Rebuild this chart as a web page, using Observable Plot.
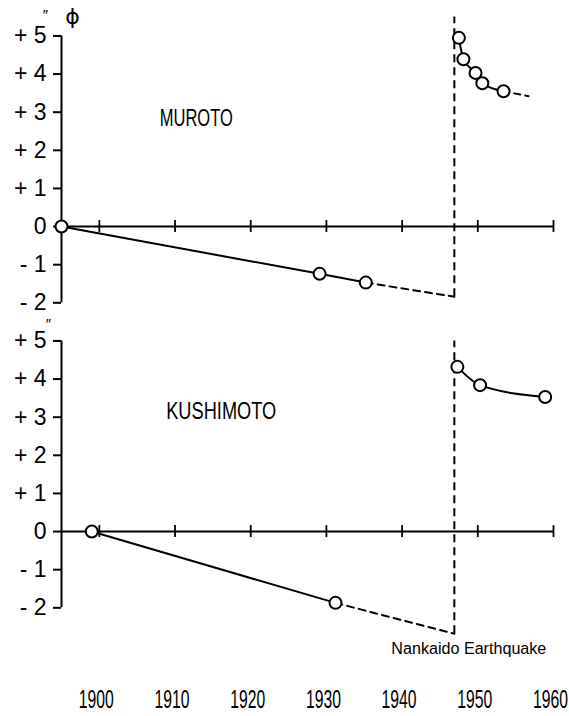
<!DOCTYPE html>
<html><head><meta charset="utf-8">
<script src="https://cdn.jsdelivr.net/npm/d3@7"></script>
<script src="https://cdn.jsdelivr.net/npm/@observablehq/plot@0.6"></script>
<style>body{margin:0;background:#fff;}</style>
</head><body><div id="chart"></div>
<script>
const stations = ["MUROTO", "KUSHIMOTO"];
const yearTicks = [1900, 1910, 1920, 1930, 1940, 1950, 1960];
const yearDomain = [1895, 1960];
const valueTicks = [-2, -1, 0, 1, 2, 3, 4, 5];
const valueTickLabels = ["- 2", "- 1", "0", "+ 1", "+ 2", "+ 3", "+ 4", "+ 5"];
const quakeYear = 1946.9;
const quakeLabel = "Nankaido Earthquake";

// Muroto
const murotoPreYears = [1895, 1929.1, 1935.2];
const murotoPreValues = [0, -1.24, -1.47];
const murotoQuakeDrop = -1.84;
const murotoQuakeTop = 5.5;
const murotoPostYears = [1947.5, 1948.1, 1949.7, 1950.6, 1953.4];
const murotoPostValues = [4.95, 4.39, 4.03, 3.76, 3.55];
const murotoTrendYear = 1956.7;
const murotoTrendValue = 3.42;

// Kushimoto
const kushimotoPreYears = [1899, 1931.2];
const kushimotoPreValues = [0, -1.87];
const kushimotoQuakeDrop = -2.68;
const kushimotoQuakeTop = 5.0;
const kushimotoPostYears = [1947.3, 1950.3, 1958.9];
const kushimotoPostValues = [4.32, 3.84, 3.53];

// station name placement
const stationLabelYears = [1912.8, 1916.1];
const stationLabelValues = [2.84, 3.16];

const zip = (st, xs, ys) => xs.map((x, i) => ({station: st, year: x, value: ys[i]}));
const pre = [...zip("MUROTO", murotoPreYears, murotoPreValues), ...zip("KUSHIMOTO", kushimotoPreYears, kushimotoPreValues)];
const post = [...zip("MUROTO", murotoPostYears, murotoPostValues), ...zip("KUSHIMOTO", kushimotoPostYears, kushimotoPostValues)];
const preDash = [
  ...zip("MUROTO", [murotoPreYears.at(-1), quakeYear], [murotoPreValues.at(-1), murotoQuakeDrop]),
  ...zip("KUSHIMOTO", [kushimotoPreYears.at(-1), quakeYear], [kushimotoPreValues.at(-1), kushimotoQuakeDrop])
];
const postDash = zip("MUROTO", [murotoPostYears.at(-1), murotoTrendYear], [murotoPostValues.at(-1), murotoTrendValue]);
const quakes = [
  {station: "MUROTO", y1: murotoQuakeDrop, y2: murotoQuakeTop},
  {station: "KUSHIMOTO", y1: kushimotoQuakeDrop, y2: kushimotoQuakeTop}
];
const zeroTicks = stations.flatMap(s => yearTicks.map(t => ({station: s, year: t})));

const font = "'Liberation Sans', Arial, sans-serif";

const chart = Plot.plot({
  width: 569, height: 716,
  marginTop: 24, marginBottom: 82, marginLeft: 61, marginRight: 16,
  style: {fontFamily: font, fontSize: "23px", color: "#000", background: "#fff"},
  x: {domain: yearDomain, label: null},
  y: {domain: [-2.7, 5.3], label: null},
  fy: {domain: stations, padding: 0, axis: null, label: null},
  marks: [
    Plot.axisX(yearTicks, {tickSize: 0, tickPadding: 56, dx: -3, label: null, tickFormat: d => String(d)}),
    Plot.axisY(valueTicks, {tickSize: 8, tickPadding: 7, strokeWidth: 2, label: null,
      tickFormat: d => valueTickLabels[valueTicks.indexOf(d)]}),
    Plot.ruleX(stations, {fy: d => d, x: yearDomain[0], y1: valueTicks[0], y2: valueTicks.at(-1), strokeWidth: 2}),
    Plot.ruleY(stations, {fy: d => d, y: 0, x1: yearDomain[0], x2: yearDomain[1], strokeWidth: 2}),
    Plot.ruleX(zeroTicks, {fy: "station", x: "year", y1: 0, y2: 0, insetTop: -6, insetBottom: -6, strokeWidth: 1.8}),
    Plot.line(pre, {fy: "station", x: "year", y: "value", z: "station", strokeWidth: 2}),
    Plot.line(preDash, {fy: "station", x: "year", y: "value", z: "station", strokeWidth: 2, strokeDasharray: "7,5"}),
    Plot.ruleX(quakes, {fy: "station", x: quakeYear, y1: "y1", y2: "y2", strokeWidth: 2, strokeDasharray: "8,5"}),
    Plot.line(post, {fy: "station", x: "year", y: "value", z: "station", curve: "monotone-x", strokeWidth: 2}),
    Plot.line(postDash, {fy: "station", x: "year", y: "value", z: "station", strokeWidth: 2, strokeDasharray: "6,5"}),
    Plot.dot([...pre, ...post], {fy: "station", x: "year", y: "value", r: 6, fill: "white", stroke: "black", strokeWidth: 2}),
    Plot.text(stations, {fy: d => d, x: (d, i) => stationLabelYears[i], y: (d, i) => stationLabelValues[i], text: d => d, fontSize: 24}),
    Plot.text([quakeLabel], {fy: () => "KUSHIMOTO", x: quakeYear, y: kushimotoQuakeDrop, text: d => d,
      textAnchor: "start", dx: -63, dy: 15, fontSize: 16}),
    Plot.text(["″"], {fy: () => "MUROTO", x: yearDomain[0], y: valueTicks.at(-1), text: d => d, dx: -16, dy: -21, fontSize: 15}),
    Plot.text(["″"], {fy: () => "KUSHIMOTO", x: yearDomain[0], y: valueTicks.at(-1), text: d => d, dx: -13, dy: -17, fontSize: 15}),
    Plot.text(["ϕ"], {fy: () => "MUROTO", x: yearDomain[0], y: valueTicks.at(-1), text: d => d, dx: 11, dy: -19,
      fontFamily: "'DejaVu Sans', sans-serif", fontSize: 22})
  ]
});
// condense lettering to match the hand-lettered originals
const sel = d3.select(chart);
sel.selectAll('g[aria-label="x-axis tick label"] text')
  .style("font-size", "25px")
  .attr("textLength", 35).attr("lengthAdjust", "spacingAndGlyphs");
const labelWidths = {"MUROTO": 73, "KUSHIMOTO": 110, "Nankaido Earthquake": 155};
sel.selectAll("text").filter(function() { return this.textContent in labelWidths; })
  .attr("textLength", function() { return labelWidths[this.textContent]; })
  .attr("lengthAdjust", "spacingAndGlyphs");
document.getElementById("chart").append(chart);
</script>
</body></html>
